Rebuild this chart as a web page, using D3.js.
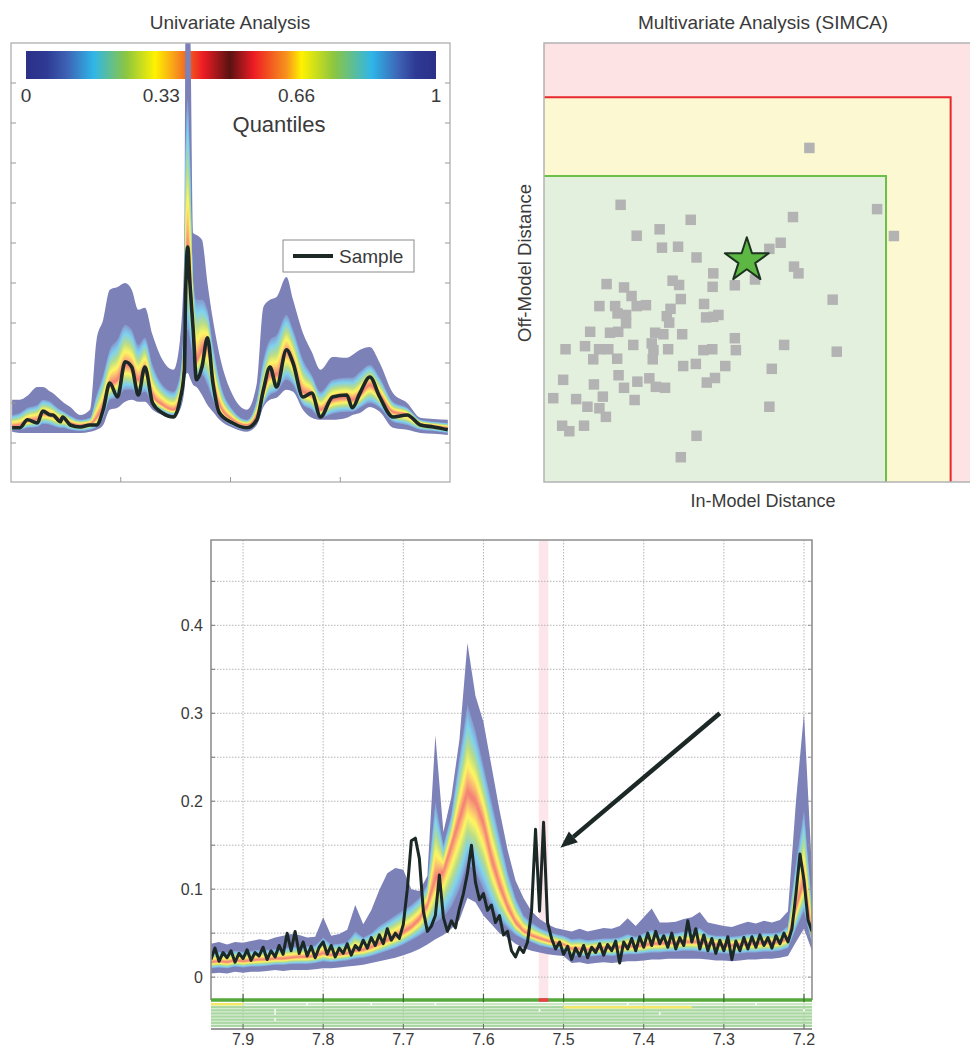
<!DOCTYPE html>
<html><head><meta charset="utf-8">
<script src="https://cdn.jsdelivr.net/npm/d3@7"></script>
<style>
body{margin:0;background:#fff;}
svg{display:block;font-family:"Liberation Sans",Arial,sans-serif;}
</style></head><body>
<svg id="fig" width="970" height="1049"></svg>
<script>
// ---------- Quantile colour map (mirrored jet) ----------
const cmapStops  = [0, 0.05, 0.10, 0.165, 0.245, 0.315, 0.367, 0.432, 0.497, 0.555, 0.636, 0.672, 0.75, 0.843, 0.91, 0.95, 1];
const cmapColors = ["#2b3088","#2e3a94","#3d62b4","#2fb6e8","#8dc63f","#fff200","#f7941d","#ed1c24","#5a1212",
                    "#ed1c24","#f7941d","#fff200","#8dc63f","#2fb6e8","#3d62b4","#2e3a94","#2b3088"];
const colorbarTicks = [0, 0.33, 0.66, 1];

// ---------- Univariate panel: channel positions and quantile curves ----------
const uniX = [0.01,0.08,0.15,0.24,0.29,0.36,0.38,0.45,0.47,0.54,0.63,0.72,0.78,0.84,0.90,0.97,1.04,1.10,1.16,1.22,
  1.29,1.38,1.48,1.54,1.58,1.59,1.61,1.63,1.66,1.69,1.74,1.79,1.84,1.90,2.02,2.15,2.24,2.30,2.36,2.42,
  2.51,2.57,2.66,2.74,2.82,2.93,3.06,3.11,3.18,3.27,3.36,3.48,3.61,3.73,3.85,3.98];
const uniSample = [0.38,0.38,0.58,0.50,0.80,0.70,0.70,0.53,0.65,0.45,0.40,0.45,0.45,0.83,1.50,1.15,2.03,1.90,1.20,1.90,
  1.00,0.75,0.65,1.08,1.83,3.58,4.90,4.00,2.83,1.58,1.90,2.63,1.50,0.75,0.50,0.38,0.58,1.33,1.90,1.40,
  2.33,2.00,1.15,1.25,0.65,1.15,1.20,0.88,1.25,1.65,1.15,0.65,0.70,0.45,0.40,0.33];
const uniMin = [0.28,0.25,0.25,0.25,0.25,0.25,0.25,0.25,0.25,0.25,0.25,0.28,0.33,0.45,0.83,0.88,1.03,1.08,1.03,1.03,
  0.83,0.70,0.65,0.83,1.33,1.70,1.75,1.63,1.45,1.40,1.20,0.95,0.78,0.58,0.38,0.28,0.45,0.90,1.08,1.13,
  1.33,1.28,0.83,0.63,0.58,0.58,0.63,0.70,0.75,0.90,0.78,0.38,0.33,0.25,0.23,0.20];
const uniQ10 = [0.33,0.33,0.38,0.40,0.48,0.45,0.43,0.38,0.38,0.33,0.30,0.33,0.40,0.63,1.08,1.13,1.33,1.33,1.20,1.28,
  0.95,0.78,0.70,0.88,1.58,2.33,2.83,2.58,2.08,1.58,1.70,1.45,1.08,0.70,0.43,0.33,0.53,0.95,1.20,1.28,
  1.58,1.45,0.95,0.83,0.63,0.73,0.78,0.78,0.88,1.00,0.88,0.53,0.45,0.33,0.30,0.25];
const uniMedian = [0.43,0.45,0.55,0.60,0.73,0.70,0.68,0.58,0.60,0.50,0.45,0.48,0.63,0.95,1.45,1.58,1.95,1.88,1.58,1.83,
  1.20,0.95,0.83,1.08,2.33,4.08,4.83,4.33,3.08,2.08,2.33,2.45,1.58,0.95,0.58,0.45,0.70,1.20,1.70,1.70,
  2.28,2.03,1.28,1.20,0.83,1.08,1.13,1.08,1.20,1.45,1.20,0.78,0.70,0.48,0.43,0.38];
const uniQ90 = [0.70,0.75,0.88,0.95,1.08,1.03,0.98,0.83,0.80,0.68,0.58,0.63,1.20,1.70,2.33,2.58,2.95,2.83,2.45,2.63,
  1.95,1.45,1.28,1.70,3.50,7.33,8.58,7.33,4.08,3.58,3.58,3.33,2.45,1.58,0.83,0.58,1.08,2.08,2.58,2.70,
  3.20,2.83,2.08,1.70,1.28,1.58,1.63,1.63,1.78,1.95,1.63,1.03,0.88,0.58,0.53,0.50];
const uniMax = [1.08,1.08,1.18,1.40,1.40,1.28,1.25,1.08,1.03,0.90,0.70,0.83,2.58,3.08,3.83,3.90,4.00,3.83,3.33,3.38,
  2.70,2.08,1.83,2.58,4.83,10.5,10.5,10.5,5.25,5.20,5.08,4.00,3.08,2.20,1.20,0.83,1.50,3.40,3.58,3.65,
  4.15,3.58,2.75,2.28,1.83,2.15,2.13,2.20,2.33,2.40,2.00,1.25,1.00,0.63,0.60,0.58];

// ---------- SIMCA panel: distances of reference samples and the new sample ----------
const simcaIn = [0.776,0.974,1.023,0.224,0.429,0.728,0.338,0.271,0.345,0.392,0.692,0.659,0.446,0.731,0.744,0.495,0.617,0.558,0.493,0.183,
  0.376,0.395,0.234,0.256,0.400,0.844,0.162,0.208,0.271,0.298,0.468,0.370,0.215,0.240,0.359,0.474,0.510,0.495,0.240,0.366,
  0.135,0.193,0.217,0.325,0.349,0.404,0.558,0.120,0.063,0.161,0.188,0.261,0.315,0.363,0.466,0.492,0.561,0.702,0.856,0.144,
  0.214,0.318,0.407,0.444,0.530,0.666,0.056,0.218,0.273,0.308,0.500,0.146,0.234,0.327,0.354,0.476,0.027,0.094,0.172,0.265,
  0.127,0.162,0.181,0.659,0.053,0.074,0.117,0.446,0.400,0.320];
const simcaOff = [1.092,0.892,0.804,0.906,0.857,0.866,0.826,0.805,0.766,0.769,0.782,0.762,0.734,0.704,0.682,0.682,0.662,0.643,0.638,0.647,
  0.658,0.644,0.636,0.608,0.598,0.596,0.575,0.575,0.575,0.578,0.582,0.566,0.551,0.546,0.542,0.538,0.546,0.540,0.519,0.521,
  0.491,0.488,0.491,0.488,0.483,0.483,0.470,0.444,0.434,0.434,0.434,0.448,0.453,0.434,0.431,0.434,0.431,0.448,0.426,0.401,
  0.403,0.401,0.379,0.386,0.379,0.370,0.334,0.349,0.328,0.339,0.340,0.319,0.308,0.311,0.308,0.325,0.274,0.271,0.279,0.268,
  0.246,0.241,0.213,0.246,0.184,0.166,0.184,0.151,0.081,0.431];
const newSample = {inModel: 0.593, offModel: 0.731};
const greenLimit = {inModel: 1.0, offModel: 1.0};
const redLimit = {inModel: 1.189, offModel: 1.258};

// ---------- Spectrum detail: chemical shift (ppm) and intensities ----------
const ppmTicks = [7.9, 7.8, 7.7, 7.6, 7.5, 7.4, 7.3, 7.2];
const intensityTicks = [0, 0.1, 0.2, 0.3, 0.4];
const envPpm = [7.94,7.93,7.92,7.91,7.90,7.89,7.88,7.87,7.86,7.85,7.84,7.83,7.82,7.81,7.80,7.79,7.78,7.77,7.76,7.75,
  7.74,7.73,7.72,7.71,7.70,7.69,7.68,7.67,7.66,7.65,7.64,7.63,7.62,7.61,7.60,7.59,7.58,7.57,7.56,7.55,
  7.54,7.53,7.52,7.51,7.50,7.49,7.48,7.47,7.46,7.45,7.44,7.43,7.42,7.41,7.40,7.39,7.38,7.37,7.36,7.35,
  7.34,7.33,7.32,7.31,7.30,7.29,7.28,7.27,7.26,7.25,7.24,7.23,7.22,7.21,7.20,7.19];
const envMin = [.004,.005,.004,.006,.005,.006,.006,.007,.008,.007,.008,.008,.008,.009,.010,.010,.011,.012,.013,.014,
  .016,.018,.020,.022,.025,.028,.032,.037,.043,.048,.055,.065,.090,.085,.070,.060,.050,.045,.038,.033,
  .030,.028,.026,.025,.024,.016,.017,.015,.016,.017,.016,.017,.018,.018,.019,.020,.020,.021,.021,.021,
  .021,.021,.020,.019,.019,.018,.019,.020,.020,.021,.021,.022,.024,.040,.055,.030];
const envQ10 = [.010,.011,.010,.012,.011,.012,.012,.013,.014,.014,.015,.015,.015,.016,.018,.017,.018,.019,.021,.022,
  .024,.027,.030,.033,.037,.042,.047,.053,.062,.068,.080,.100,.130,.120,.100,.080,.065,.056,.048,.043,
  .040,.036,.034,.032,.031,.024,.025,.023,.024,.025,.024,.025,.026,.026,.027,.028,.028,.029,.029,.030,
  .030,.029,.028,.027,.027,.026,.027,.028,.028,.029,.029,.030,.033,.055,.075,.038];
const envMedian = [.017,.018,.017,.019,.018,.019,.020,.020,.021,.021,.022,.023,.023,.024,.027,.025,.026,.027,.030,.031,
  .034,.038,.042,.046,.051,.057,.066,.082,.112,.120,.150,.180,.210,.200,.175,.135,.105,.080,.062,.052,
  .047,.044,.041,.039,.037,.032,.032,.031,.032,.033,.033,.034,.035,.035,.036,.038,.038,.039,.039,.040,
  .040,.040,.038,.037,.036,.036,.037,.038,.038,.039,.039,.040,.044,.078,.110,.048];
const envQ90 = [.028,.029,.028,.030,.029,.030,.031,.031,.032,.033,.034,.035,.035,.036,.045,.037,.038,.040,.052,.045,
  .050,.058,.064,.070,.076,.082,.090,.105,.200,.150,.185,.250,.310,.280,.240,.200,.160,.120,.090,.070,
  .062,.056,.052,.049,.047,.043,.044,.042,.043,.044,.044,.045,.049,.046,.050,.054,.049,.050,.050,.052,
  .052,.056,.049,.047,.047,.046,.047,.049,.049,.050,.050,.051,.058,.130,.190,.080];
const envMax = [.038,.040,.037,.040,.039,.041,.043,.042,.045,.047,.049,.048,.045,.046,.068,.047,.049,.054,.082,.060,
  .076,.099,.118,.124,.122,.100,.098,.115,.275,.165,.205,.270,.380,.320,.290,.240,.190,.145,.110,.090,
  .075,.066,.060,.056,.054,.052,.055,.052,.054,.056,.055,.058,.067,.058,.068,.078,.062,.062,.063,.066,
  .068,.074,.062,.060,.058,.057,.060,.063,.061,.064,.062,.065,.075,.200,.300,.120];
// sample spectrum, 7.940 → 7.190 ppm in 0.005 ppm steps
const samplePpmStart = 7.94, samplePpmStep = 0.005;
const sampleIntensity = [.020,.033,.018,.028,.022,.030,.017,.027,.021,.031,.019,.028,.024,.034,.020,.030,.023,.036,.026,.050,
  .030,.052,.027,.040,.024,.035,.022,.034,.040,.026,.036,.023,.033,.027,.038,.025,.036,.031,.042,.033,
  .045,.036,.048,.038,.055,.042,.050,.044,.060,.100,.155,.158,.135,.075,.052,.058,.070,.116,.068,.052,
  .064,.056,.078,.095,.118,.150,.108,.088,.095,.076,.082,.062,.070,.048,.052,.030,.023,.034,.028,.040,
  .075,.168,.075,.176,.062,.044,.032,.040,.026,.035,.020,.033,.024,.036,.022,.034,.028,.038,.025,.037,
  .030,.041,.016,.040,.032,.044,.030,.046,.034,.050,.036,.052,.038,.047,.034,.050,.032,.045,.036,.064,
  .040,.055,.032,.048,.030,.044,.027,.042,.030,.046,.020,.041,.030,.045,.032,.046,.034,.048,.036,.045,
  .033,.047,.038,.050,.040,.055,.095,.140,.110,.065,.052];
const flaggedRegion = [7.531, 7.519];
const annotationArrow = {from: [7.305, 0.300], to: [7.504, 0.147]};
// per-row quality status below the spectrum
const statusRowCount = 8;
const statusWarnings = [{row: 0, from: 7.94, to: 7.90}, {row: 1, from: 7.50, to: 7.34}];
const statusBreaks = [{row: 0, at: 7.82}, {row: 0, at: 7.74}, {row: 0, at: 7.66}, {row: 0, at: 7.26}, {row: 0, at: 7.42},
  {row: 2, at: 7.86}, {row: 3, at: 7.86}, {row: 5, at: 7.86}, {row: 2, at: 7.53}, {row: 3, at: 7.38}, {row: 2, at: 7.20}];

// ---------- helpers ----------
const cmap = d3.scaleLinear().domain(cmapStops).range(cmapColors).interpolate(d3.interpolateRgb);
const tint = c => d3.interpolateRgb("#ffffff", c)(0.62);
const ink = "#1b2826";
const textCol = "#3a3a3a";
const svg = d3.select("#fig");
const defs = svg.append("defs");

function quantileBands(g, rows, x, y, steps, curve) {
  const area = (lo, hi) => d3.area().curve(curve).x(d => x(d.x)).y0(d => y(lo(d))).y1(d => y(hi(d)));
  g.append("path").datum(rows).attr("d", area(d => d.lo, d => d.hi)).attr("fill", tint(cmap(0.02)));
  for (let k = 0; k < steps; k++) {
    const t = k / steps;
    g.append("path").datum(rows)
      .attr("d", area(d => d.q10 + (d.med - d.q10) * t, d => d.q90 - (d.q90 - d.med) * t))
      .attr("fill", tint(cmap(0.1 + 0.33 * t)));
  }
}

// ================= Panel A: univariate analysis =================
{
  const L = 11, R = 450, T = 43, B = 482;
  const x = d3.scaleLinear().domain([0, 4]).range([L, R]);
  const y = d3.scaleLinear().domain([-0.975, 10]).range([B, T]);
  svg.append("text").attr("x", 230).attr("y", 29).attr("text-anchor", "middle")
    .attr("font-size", 19).attr("fill", textCol).text("Univariate Analysis");
  defs.append("clipPath").attr("id", "clipA")
    .append("rect").attr("x", L).attr("y", T).attr("width", R - L).attr("height", B - T);

  // colour bar
  const cb = d3.scaleLinear().domain([0, 1]).range([26, 436]);
  const grad = defs.append("linearGradient").attr("id", "cbGrad");
  cmapStops.forEach((s, i) => grad.append("stop").attr("offset", s).attr("stop-color", cmapColors[i]));
  svg.append("rect").attr("x", cb(0)).attr("y", 51).attr("width", cb(1) - cb(0)).attr("height", 28).attr("fill", "url(#cbGrad)");
  svg.selectAll(".cbl").data(colorbarTicks).join("text")
    .attr("x", d => cb(d)).attr("y", 102).attr("text-anchor", "middle").attr("font-size", 19).attr("fill", textCol)
    .text(d => d);
  svg.append("text").attr("x", 279).attr("y", 132).attr("text-anchor", "middle").attr("font-size", 22).attr("fill", textCol).text("Quantiles");

  const rows = uniX.map((v, i) => ({x: v, lo: uniMin[i], q10: uniQ10[i], med: uniMedian[i], q90: uniQ90[i], hi: uniMax[i]}));
  const g = svg.append("g").attr("clip-path", "url(#clipA)");
  quantileBands(g, rows, x, y, 24, d3.curveMonotoneX);
  g.append("path").datum(uniX.map((v, i) => [v, uniSample[i]]))
    .attr("d", d3.line().curve(d3.curveMonotoneX).x(d => x(d[0])).y(d => y(d[1])))
    .attr("fill", "none").attr("stroke", ink).attr("stroke-width", 3.6).attr("stroke-linejoin", "round");

  // legend
  svg.append("rect").attr("x", 283).attr("y", 240).attr("width", 131).attr("height", 32).attr("fill", "#fff").attr("stroke", "#8a8a8a");
  svg.append("line").attr("x1", 293).attr("x2", 333).attr("y1", 256).attr("y2", 256).attr("stroke", ink).attr("stroke-width", 4);
  svg.append("text").attr("x", 339).attr("y", 263).attr("font-size", 19).attr("fill", textCol).text("Sample");

  // frame and inward ticks
  svg.append("rect").attr("x", L).attr("y", T).attr("width", R - L).attr("height", B - T).attr("fill", "none").attr("stroke", "#a8a8a8").attr("stroke-width", 1.2);
  const yt = d3.range(0, 10);
  svg.selectAll(".ytl").data(yt).join("line").attr("x1", L).attr("x2", L + 5).attr("y1", d => y(d)).attr("y2", d => y(d)).attr("stroke", "#999");
  svg.selectAll(".ytr").data(yt).join("line").attr("x1", R).attr("x2", R - 5).attr("y1", d => y(d)).attr("y2", d => y(d)).attr("stroke", "#999");
  svg.selectAll(".xtb").data([1, 2, 3]).join("line").attr("x1", d => x(d)).attr("x2", d => x(d)).attr("y1", B).attr("y2", B - 5).attr("stroke", "#999");
}

// ================= Panel B: SIMCA =================
{
  const L = 544, R = 971.5, T = 43, B = 482;
  const x = d3.scaleLinear().domain([0, 1.25]).range([L, R]);
  const y = d3.scaleLinear().domain([0, 1.435]).range([B, T]);
  svg.append("text").attr("x", 763).attr("y", 29).attr("text-anchor", "middle")
    .attr("font-size", 19).attr("fill", textCol).text("Multivariate Analysis (SIMCA)");
  svg.append("rect").attr("x", L).attr("y", T).attr("width", R - L).attr("height", B - T).attr("fill", "#fde3e3");
  svg.append("rect").attr("x", L).attr("y", y(redLimit.offModel)).attr("width", x(redLimit.inModel) - L)
    .attr("height", B - y(redLimit.offModel)).attr("fill", "#fcf8d2");
  svg.append("rect").attr("x", L).attr("y", y(greenLimit.offModel)).attr("width", x(greenLimit.inModel) - L)
    .attr("height", B - y(greenLimit.offModel)).attr("fill", "#e4f0de");
  const limitPath = lim => `M${L},${y(lim.offModel)}H${x(lim.inModel)}V${B}`;
  svg.append("path").attr("d", limitPath(redLimit)).attr("fill", "none").attr("stroke", "#e8282c").attr("stroke-width", 2);
  svg.append("path").attr("d", limitPath(greenLimit)).attr("fill", "none").attr("stroke", "#6cbf47").attr("stroke-width", 2);
  svg.append("path").attr("d", `M${R},${T}H${L}V${B}H${R}`).attr("fill", "none").attr("stroke", "#b3b3b3").attr("stroke-width", 1.5);

  const s = 10.5;
  svg.selectAll(".pt").data(simcaIn.map((v, i) => [v, simcaOff[i]])).join("rect")
    .attr("x", d => x(d[0]) - s / 2).attr("y", d => y(d[1]) - s / 2).attr("width", s).attr("height", s)
    .attr("fill", "#b3b3b3");
  svg.append("path").attr("d", d3.symbol(d3.symbolStar, 600)())
    .attr("transform", `translate(${x(newSample.inModel)},${y(newSample.offModel) + 2})`)
    .attr("fill", "#5db843").attr("stroke", "#1d3320").attr("stroke-width", 2).attr("stroke-linejoin", "round");

  svg.append("text").attr("x", 763).attr("y", 507).attr("text-anchor", "middle").attr("font-size", 18).attr("fill", textCol).text("In-Model Distance");
  svg.append("text").attr("transform", "translate(531,263) rotate(-90)").attr("text-anchor", "middle").attr("font-size", 18.5).attr("fill", textCol).text("Off-Model Distance");
}

// ================= Panel C: spectrum detail =================
{
  const L = 211, R = 812, T = 540, B = 1000;
  const x = d3.scaleLinear().domain([7.94, 7.19]).range([L, R]);
  const y = d3.scaleLinear().domain([-0.026, 0.497]).range([B, T]);
  defs.append("clipPath").attr("id", "clipC")
    .append("rect").attr("x", L).attr("y", T).attr("width", R - L).attr("height", B - T);

  svg.append("rect").attr("x", x(flaggedRegion[0])).attr("y", T).attr("width", x(flaggedRegion[1]) - x(flaggedRegion[0]))
    .attr("height", B - T).attr("fill", "#fde6ea");

  // dotted grid
  const gridY = d3.range(0, 0.451, 0.05);
  svg.selectAll(".gy").data(gridY).join("line").attr("x1", L).attr("x2", R).attr("y1", d => y(d)).attr("y2", d => y(d))
    .attr("stroke", "#b5b5b5").attr("stroke-dasharray", "1.5,1.5");
  svg.selectAll(".gx").data(ppmTicks).join("line").attr("x1", d => x(d)).attr("x2", d => x(d)).attr("y1", T).attr("y2", 1029)
    .attr("stroke", "#b5b5b5").attr("stroke-dasharray", "1.5,1.5");

  const rows = envPpm.map((v, i) => ({x: v, lo: envMin[i], q10: envQ10[i], med: envMedian[i], q90: envQ90[i], hi: envMax[i]}));
  const g = svg.append("g").attr("clip-path", "url(#clipC)");
  quantileBands(g, rows, x, y, 24, d3.curveLinear);
  g.append("path").datum(sampleIntensity.map((v, i) => [samplePpmStart - i * samplePpmStep, v]))
    .attr("d", d3.line().x(d => x(d[0])).y(d => y(d[1])))
    .attr("fill", "none").attr("stroke", ink).attr("stroke-width", 3).attr("stroke-linejoin", "round");

  // arrow pointing at the unexpected doublet
  const [x1, y1] = [x(annotationArrow.from[0]), y(annotationArrow.from[1])];
  const [x2, y2] = [x(annotationArrow.to[0]), y(annotationArrow.to[1])];
  const ang = Math.atan2(y2 - y1, x2 - x1), hl = 17, hw = 7;
  const bx = x2 - hl * Math.cos(ang), by = y2 - hl * Math.sin(ang);
  svg.append("line").attr("x1", x1).attr("y1", y1).attr("x2", bx).attr("y2", by).attr("stroke", ink).attr("stroke-width", 4.5);
  svg.append("path").attr("d", `M${x2},${y2}L${bx + hw * Math.sin(ang)},${by - hw * Math.cos(ang)}L${bx - hw * Math.sin(ang)},${by + hw * Math.cos(ang)}Z`)
    .attr("fill", ink);

  // frame
  svg.append("path").attr("d", `M${L},${B}V${T}H${R}V${B}`).attr("fill", "none").attr("stroke", "#8f8f8f").attr("stroke-width", 1.6);
  const yMinor = d3.range(0, 0.451, 0.05);
  svg.selectAll(".ytk").data(yMinor).join("line").attr("x1", L).attr("x2", L + 4).attr("y1", d => y(d)).attr("y2", d => y(d)).attr("stroke", "#777");
  svg.selectAll(".ytkr").data(yMinor).join("line").attr("x1", R).attr("x2", R - 4).attr("y1", d => y(d)).attr("y2", d => y(d)).attr("stroke", "#999");
  svg.selectAll(".ylab").data(intensityTicks).join("text").attr("x", 203).attr("y", d => y(d) + 6)
    .attr("text-anchor", "end").attr("font-size", 16).attr("fill", textCol).text(d => d);

  // status strip
  const rowBand = d3.scaleBand().domain(d3.range(statusRowCount)).range([1003, 1027]).paddingInner(0.22);
  svg.selectAll(".srow").data(d3.range(statusRowCount)).join("rect")
    .attr("x", L).attr("width", R - L).attr("y", d => rowBand(d)).attr("height", rowBand.bandwidth())
    .attr("fill", d => d === 0 ? "#cbe7c4" : "#a9d7a1");
  svg.selectAll(".swarn").data(statusWarnings).join("rect")
    .attr("x", d => x(d.from)).attr("width", d => x(d.to) - x(d.from)).attr("y", d => rowBand(d.row)).attr("height", rowBand.bandwidth())
    .attr("fill", "#f3e964");
  svg.selectAll(".sbrk").data(statusBreaks).join("rect")
    .attr("x", d => x(d.at) - 0.8).attr("width", 1.6).attr("y", d => rowBand(d.row)).attr("height", rowBand.bandwidth())
    .attr("fill", "#ffffff");
  svg.append("line").attr("x1", L).attr("x2", R).attr("y1", B).attr("y2", B).attr("stroke", "#55a83a").attr("stroke-width", 3.5);
  svg.append("line").attr("x1", x(flaggedRegion[0])).attr("x2", x(flaggedRegion[1])).attr("y1", B).attr("y2", B)
    .attr("stroke", "#ee3b4a").attr("stroke-width", 3.5);
  svg.selectAll(".ttk").data(ppmTicks).join("line").attr("x1", d => x(d)).attr("x2", d => x(d)).attr("y1", B - 6).attr("y2", B + 2)
    .attr("stroke", "#3c6b34").attr("stroke-width", 1.2);

  // bottom ppm axis
  svg.append("line").attr("x1", L).attr("x2", R).attr("y1", 1029).attr("y2", 1029).attr("stroke", "#777").attr("stroke-width", 1.5);
  svg.selectAll(".btk").data(ppmTicks).join("line").attr("x1", d => x(d)).attr("x2", d => x(d)).attr("y1", 1029).attr("y2", 1024).attr("stroke", "#666");
  svg.selectAll(".xlab").data(ppmTicks).join("text").attr("x", d => x(d)).attr("y", 1045)
    .attr("text-anchor", "middle").attr("font-size", 16).attr("fill", textCol).text(d => d.toFixed(1));
}
</script>
</body></html>
